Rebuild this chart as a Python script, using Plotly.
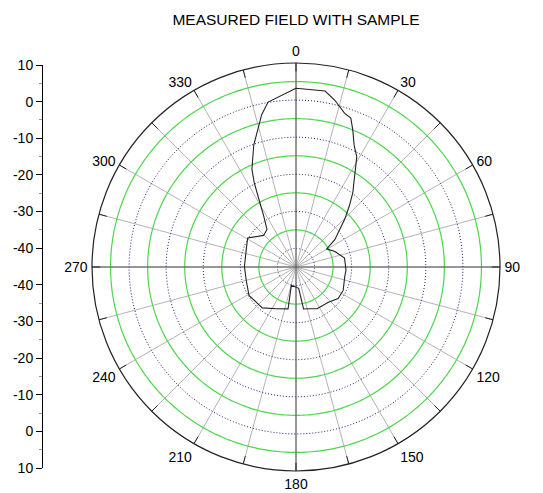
import numpy as np
import plotly.graph_objects as go

# ---- data ----
angles_deg = [0, 9.4, 13.2, 17.5, 20.2, 22.5, 25.5, 28.9, 32.3, 37.3, 41.1, 45.7,
              54.8, 59.4, 68.2, 79.6, 93.4, 101.4, 116.4, 126.9, 137.4, 153.2,
              162.8, 169.8, 172.8, 194.3, 190.7, 204.7, 219.6, 238.9, 254.8,
              270.6, 289, 301, 314.3, 322.3, 327.6, 331.3, 333.7, 335.8, 340.9,
              347.3, 350.4, 360]
field_db = [3.2, 3.1, 1.1, -1.5, -2.2, -5.0, -8.6, -11.1, -15.3, -19.7, -23.1, -26.7,
            -32.2, -35.4, -33.7, -31.7, -31.5, -31.6, -30.8, -30.8, -32.1, -32.4,
            -33.2, -33.5, -39.2, -39.9, -33.5, -32.6, -30.7, -30.2, -31.1,
            -31.1, -30.8, -29.8, -32.8, -32.2, -28.8, -24.2, -19.5, -16.0, -10.2,
            -2.9, 0.1, 3.2]

r_min, r_max = -45, 10
green_levels = [-35, -25, -15, -5, 5]
blue_levels = [-40, -30, -20, -10, 0]
angle_ticks = list(range(0, 360, 15))
angle_labels = [str(a) if a % 30 == 0 else "" for a in angle_ticks]
left_labels_top = ["10", "0", "-10", "-20", "-30", "-40"]
left_labels_bottom = ["-40", "-30", "-20", "-10", "0", "10"]
left_vals_top = [10, 0, -10, -20, -30, -40]
left_vals_bottom = [-40, -30, -20, -10, 0, 10]

FONT = "Arial, Liberation Sans, sans-serif"

fig = go.Figure()
ring_theta = np.linspace(0, 360, 361)

for lv in green_levels:
    fig.add_trace(go.Scatterpolar(r=[lv] * len(ring_theta), theta=ring_theta, mode="lines",
                                  line=dict(color="#4cd64c", width=1.2), hoverinfo="skip",
                                  showlegend=False))
for lv in blue_levels:
    fig.add_trace(go.Scatterpolar(r=[lv] * len(ring_theta), theta=ring_theta, mode="lines",
                                  line=dict(color="#1a1a80", width=1, dash="1px,2px"),
                                  hoverinfo="skip", showlegend=False))
# main axes through centre
for a in (0, 90):
    fig.add_trace(go.Scatterpolar(r=[r_max, r_min, r_max], theta=[a, a, a + 180], mode="lines",
                                  line=dict(color="#555555", width=1), hoverinfo="skip",
                                  showlegend=False))

fig.add_trace(go.Scatterpolar(r=field_db, theta=angles_deg, mode="lines",
                              line=dict(color="#222222", width=1.1), showlegend=False,
                              name="Measured field"))

# invisible anchor for the left scale
left_pos = [v + 45 for v in left_vals_top] + [-(v + 45) for v in left_vals_bottom]
fig.add_trace(go.Scatter(x=[0.5] * len(left_pos), y=left_pos, mode="markers",
                         marker=dict(opacity=0), hoverinfo="skip", showlegend=False,
                         xaxis="x", yaxis="y"))

# page has an 8px body margin: lay the figure out in page pixels minus that offset
OFF = 8
W, H = 543 - OFF, 493 - OFF
cx, cy, rad = 296 - OFF, 267 - OFF, 204
ax_x, ax_top, ax_bot = 43 - OFF, 65 - OFF, 468 - OFF
fig.update_layout(
    width=W, height=H, autosize=False,
    margin=dict(l=0, r=0, t=0, b=0, pad=0, autoexpand=False),
    paper_bgcolor="white", plot_bgcolor="white",
    font=dict(family=FONT, size=14, color="black"),
    title=dict(text="MEASURED FIELD WITH SAMPLE", x=cx / W, xanchor="center", automargin=False,
               y=1 - (20 - OFF) / H, yanchor="middle",
               font=dict(size=15.5, family=FONT, color="black")),
    polar=dict(
        domain=dict(x=[(cx - rad) / W, (cx + rad) / W],
                    y=[(H - cy - rad) / H, (H - cy + rad) / H]),
        bgcolor="white",
        radialaxis=dict(range=[r_min, r_max], showgrid=False, showticklabels=False,
                        showline=False, ticks=""),
        angularaxis=dict(rotation=90, direction="clockwise", tickmode="array",
                         tickvals=angle_ticks, ticktext=angle_labels,
                         showgrid=True, gridcolor="#b4b4b4", gridwidth=1,
                         ticks="outside", ticklen=1, tickcolor="rgba(0,0,0,0)",
                         showline=True, linecolor="#222222", linewidth=1.2,
                         tickfont=dict(size=14, family=FONT, color="black")),
    ),
    xaxis=dict(domain=[ax_x / W, (ax_x + 17) / W], range=[0, 1], visible=False, fixedrange=True),
    yaxis=dict(anchor="x", side="left", domain=[(H - ax_bot) / H, (H - ax_top) / H],
               range=[-55, 55], automargin=False,
               tickmode="array", tickvals=left_pos,
               ticktext=left_labels_top + left_labels_bottom,
               showgrid=False, zeroline=False, showline=True, linecolor="black",
               linewidth=1, ticks="outside", ticklen=6, tickcolor="black",
               minor=dict(tickmode="array", tickvals=[50, 40, 30, 20, 10, -10, -20, -30, -40, -50],
                          ticks="outside", ticklen=3, tickcolor="#999999", showgrid=False),
               tickfont=dict(size=14, family=FONT, color="black")),
)

# inner tick marks on the outer circle every 15 degrees
for a in angle_ticks:
    fig.add_trace(go.Scatterpolar(r=[r_max, r_max - 2.2], theta=[a, a], mode="lines",
                                  line=dict(color="#222222", width=1), hoverinfo="skip",
                                  showlegend=False))

fig.write_html("out.html")
